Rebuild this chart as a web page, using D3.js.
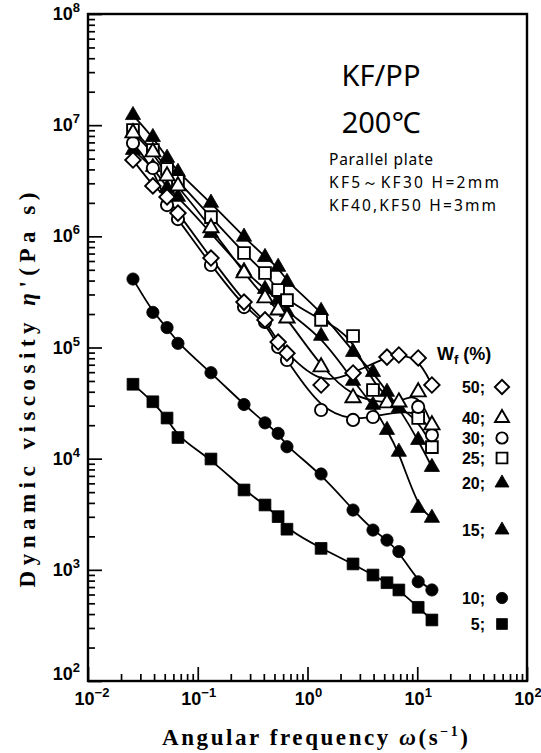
<!DOCTYPE html>
<html><head><meta charset="utf-8">
<script src="https://cdn.jsdelivr.net/npm/d3@7"></script>
<style>body{margin:0;background:#fff}</style>
</head><body>
<svg id="chart" width="541" height="753"></svg>
<script>
// ---- data ----
const omega = [0.0257, 0.039, 0.0525, 0.066, 0.132, 0.264, 0.41, 0.54, 0.65, 1.33, 2.6, 3.95, 5.3, 6.8, 10.2, 13.6];
const eta50 = [4.86e6, 2.84e6, 2.26e6, 1.62e6, 6.38e5, 2.56e5, 1.77e5, 1.12e5, 8.9e4, 4.6e4, 5.9e4, null, 8.2e4, 8.56e4, 8.05e4, 4.6e4];
const eta40 = [8.5e6, 5.74e6, 3.49e6, 2.84e6, 1.19e6, 4.68e5, 2.79e5, 2.17e5, 1.84e5, 6.68e4, 3.52e4, null, 3.17e4, 3.23e4, 3.98e4, 2.01e4];
const eta30 = [6.91e6, 4.12e6, 1.91e6, 1.43e6, 5.52e5, 2.31e5, 1.70e5, 1.01e5, 7.72e4, 2.74e4, 2.23e4, 2.37e4, null, null, 2.92e4, 1.63e4];
const eta25 = [9.04e6, 5.98e6, 4.03e6, 3.15e6, 1.49e6, 7.08e5, 4.68e5, 3.29e5, 2.67e5, 1.77e5, 1.27e5, 4.15e4, null, null, 2.32e4, 1.27e4];
const eta20 = [1.23e7, 7.8e6, 5.07e6, 3.79e6, 2.0e6, 9.9e5, 6.5e5, 5.3e5, 3.88e5, 2.13e5, 9.1e4, 6.0e4, 3.98e4, 2.86e4, 1.47e4, 8.4e3];
const eta15 = [5.98e6, 4.2e6, 2.72e6, 2.26e6, 1.07e6, 4.88e5, 3.36e5, 2.67e5, 2.08e5, 1.27e5, 5.0e4, 3.04e4, 1.81e4, 1.15e4, 3.6e3, 2.93e3];
const eta10 = [4.13e5, 2.07e5, 1.51e5, 1.09e5, 5.93e4, 3.07e4, 2.1e4, 1.69e4, 1.28e4, 7.28e3, 3.45e3, 2.28e3, 1.85e3, 1.46e3, 781, 659];
const eta5  = [4.67e4, 3.25e4, 2.32e4, 1.55e4, 9.93e3, 5.23e3, 3.83e3, 3.01e3, 2.32e3, 1.56e3, 1.13e3, 898, 766, 659, 460, 354];

const seriesNames = ["50", "40", "30", "25", "20", "15", "10", "5"];
const seriesMarkers = ["diamond", "triangleOpen", "circleOpen", "squareOpen", "triangle", "triangle", "circle", "square"];
const xTickExp = [-2, -1, 0, 1, 2];
const yTickExp = [2, 3, 4, 5, 6, 7, 8];

const seriesData = [eta50, eta40, eta30, eta25, eta20, eta15, eta10, eta5];

// ---- layout ----
const svg = d3.select("#chart");
const L = 88, R = 527, T = 14, B = 681;
const x = d3.scaleLog().domain([1e-2, 1e2]).range([L, R]);
const y = d3.scaleLog().domain([1e2, 1e8]).range([B, T]);

const majorX = xTickExp.map(e => Math.pow(10, e));
const majorY = yTickExp.map(e => Math.pow(10, e));
const minorX = [], minorY = [];
for (let e = -2; e < 2; e++) for (let m = 2; m <= 9; m++) minorX.push(m * Math.pow(10, e));
for (let e = 2; e < 8; e++) for (let m = 2; m <= 9; m++) minorY.push(m * Math.pow(10, e));

function styleAxis(g) {
  g.select(".domain").remove();
  g.selectAll(".tick line").attr("stroke", "#000").attr("stroke-width", 1.7);
}
svg.append("g").attr("transform", `translate(0,${B})`)
  .call(d3.axisBottom(x).tickValues(majorX).tickSize(-14).tickFormat("")).call(styleAxis);
svg.append("g").attr("transform", `translate(0,${B})`)
  .call(d3.axisBottom(x).tickValues(minorX).tickSize(-7).tickFormat("")).call(styleAxis);
svg.append("g").attr("transform", `translate(${L},0)`)
  .call(d3.axisLeft(y).tickValues(majorY).tickSize(-14).tickFormat("")).call(styleAxis);
svg.append("g").attr("transform", `translate(${L},0)`)
  .call(d3.axisLeft(y).tickValues(minorY).tickSize(-7).tickFormat("")).call(styleAxis);

// frame
svg.append("rect").attr("x", L).attr("y", T).attr("width", R - L).attr("height", B - T)
  .attr("fill", "none").attr("stroke", "#000").attr("stroke-width", 2.4);

// tick labels
const tickFont = "'Liberation Sans', Arial, sans-serif";
xTickExp.forEach((e, i) => {
  const t = svg.append("text").attr("x", x(majorX[i]) + (i === 0 ? 4 : 1)).attr("y", 705)
    .attr("text-anchor", "middle").attr("font-family", tickFont).attr("font-weight", "bold")
    .attr("font-size", 18);
  t.append("tspan").text("10");
  t.append("tspan").attr("font-size", 13).attr("dy", -8).text(e < 0 ? "\u2212" + (-e) : String(e));
});
yTickExp.forEach((e, i) => {
  const yy = y(majorY[i]) + (e === 2 ? -1 : 6);
  const t = svg.append("text").attr("x", 80).attr("y", yy)
    .attr("text-anchor", "end").attr("font-family", tickFont).attr("font-weight", "bold")
    .attr("font-size", 18);
  t.append("tspan").text("10");
  t.append("tspan").attr("font-size", 13).attr("dy", -8).text(String(e));
});

// axis titles
const serif = "'Liberation Serif', 'Times New Roman', serif";
const xt = svg.append("text").attr("x", 315).attr("y", 745).attr("text-anchor", "middle")
  .attr("font-family", serif).attr("font-weight", "bold").attr("font-size", 23)
  .attr("textLength", 306).attr("lengthAdjust", "spacing");
xt.append("tspan").text("Angular frequency  ");
xt.append("tspan").attr("font-style", "italic").text("\u03c9");
xt.append("tspan").text("(s");
xt.append("tspan").attr("font-size", 14).attr("dy", -9).text("\u22121");
xt.append("tspan").attr("dy", 9).text(")");

const yt = svg.append("text").attr("transform", "translate(35,390) rotate(-90)")
  .attr("text-anchor", "middle")
  .attr("font-family", serif).attr("font-weight", "bold").attr("font-size", 23)
  .attr("textLength", 395).attr("lengthAdjust", "spacing");
yt.append("tspan").text("Dynamic viscosity  ");
yt.append("tspan").attr("font-style", "italic").text("\u03b7");
yt.append("tspan").text("'(Pa s)");

// annotations
const sans = "'Noto Sans', 'Open Sans', sans-serif";
svg.append("text").attr("x", 381).attr("y", 86).attr("text-anchor", "middle")
  .attr("font-family", sans).attr("font-size", 29).text("KF/PP");
svg.append("text").attr("x", 381).attr("y", 133).attr("text-anchor", "middle")
  .attr("font-family", sans).attr("font-size", 29).text("200\u2103");
[["Parallel plate", 165, 104], ["KF5\uff5eKF30 H=2mm", 188, 170], ["KF40,KF50 H=3mm", 211, 167]].forEach(([s, yy, w]) => {
  svg.append("text").attr("x", 329).attr("y", yy).attr("font-family", sans).attr("font-size", 15.5)
    .attr("textLength", w).attr("lengthAdjust", "spacing").text(s);
});

// ---- markers ----
function drawMarker(g, type, cx, cy, scale = 1) {
  const open = type.endsWith("Open") || type === "diamond";
  const base = type.replace("Open", "");
  let sym, size, rot = 0;
  if (base === "triangle") { sym = d3.symbolTriangle; size = 100; }
  else if (base === "circle") { sym = d3.symbolCircle; size = 118; }
  else if (base === "square") { sym = d3.symbolSquare; size = 138; }
  else { sym = d3.symbolSquare; size = 120; rot = 45; }
  g.append("path").attr("d", d3.symbol(sym, size * scale)())
    .attr("transform", `translate(${cx},${cy}) rotate(${rot})`)
    .attr("fill", open ? "#fff" : "#000").attr("stroke", "#000")
    .attr("stroke-width", open ? 1.9 : 0.8);
}

const line = d3.line().defined(d => d[1] != null)
  .x(d => x(d[0])).y(d => y(d[1])).curve(d3.curveBasis);

const gLines = svg.append("g");
const gMarks = svg.append("g");
seriesData.forEach((vals, si) => {
  const pts = omega.map((w, i) => [w, vals[i]]).filter(d => d[1] != null);
  gLines.append("path").attr("d", line(pts)).attr("fill", "none")
    .attr("stroke", "#000").attr("stroke-width", 1.8);
});
// draw markers back-to-front
[7, 6, 5, 4, 3, 2, 1, 0].forEach(si => {
  omega.forEach((w, i) => {
    const v = seriesData[si][i];
    if (v != null) drawMarker(gMarks, seriesMarkers[si], x(w), y(v));
  });
});

// ---- legend ----
const wf = svg.append("text").attr("x", 437).attr("y", 360).attr("font-family", tickFont)
  .attr("font-weight", "bold").attr("font-size", 18);
wf.append("tspan").text("W");
wf.append("tspan").attr("font-size", 13).attr("dy", 4).text("f");
wf.append("tspan").attr("dy", -4).text(" (%)");

const legendY = [387, 418, 438, 458, 483, 530, 598, 624];
seriesNames.forEach((n, i) => {
  svg.append("text").attr("x", 485).attr("y", legendY[i] + 6).attr("text-anchor", "end")
    .attr("font-family", tickFont).attr("font-weight", "bold").attr("font-size", 16).text(n + ";");
  drawMarker(svg, seriesMarkers[i], 502, legendY[i], 0.85);
});
</script>
</body></html>
